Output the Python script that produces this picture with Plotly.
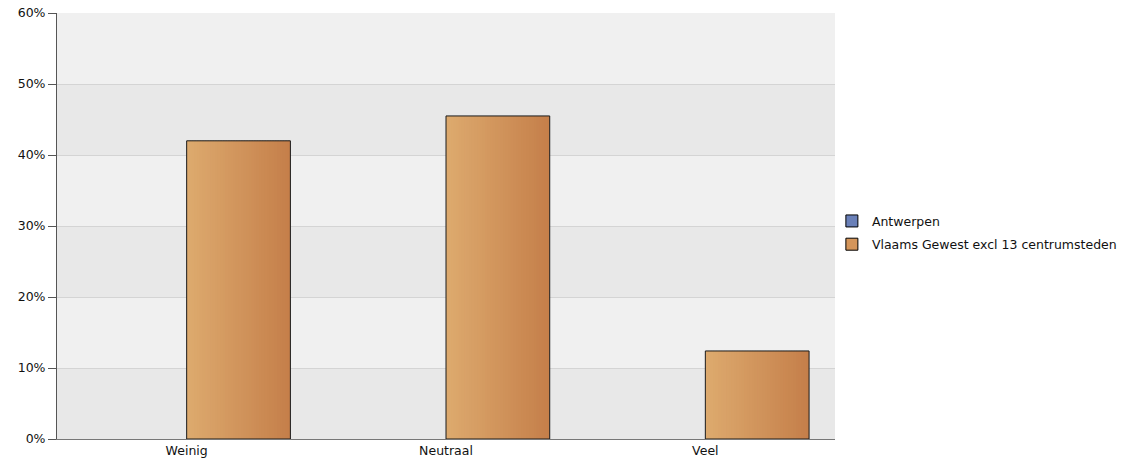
import plotly.graph_objects as go

categories = ["Weinig", "Neutraal", "Veel"]
series_names = ["Antwerpen", "Vlaams Gewest excl 13 centrumsteden"]
antwerpen = [None, None, None]
vlaams = [42.0, 45.5, 12.4]
y_ticks = [0, 10, 20, 30, 40, 50, 60]
y_tick_labels = ["0%", "10%", "20%", "30%", "40%", "50%", "60%"]

FONT = "DejaVu Sans"
blue = "#6a80b8"
orange = "#d4955a"
grad_left = (221, 170, 110)
grad_right = (197, 127, 74)

fig = go.Figure()

# legend-only entries
fig.add_trace(go.Bar(x=categories, y=antwerpen, name=series_names[0], legendgroup="a",
                     marker=dict(color=blue, line=dict(color="black", width=1)),
                     offset=-0.4, width=0.4))
fig.add_trace(go.Bar(x=categories, y=[None] * 3, name=series_names[1], legendgroup="b",
                     marker=dict(color=orange, line=dict(color="black", width=1)),
                     offset=0, width=0.4))

# gradient slices for the Vlaams series
N = 40
bar_w = 0.4
step = bar_w / N
for i in range(N):
    t = i / (N - 1)
    c = tuple(round(grad_left[k] + (grad_right[k] - grad_left[k]) * t) for k in range(3))
    w = min(step * 1.6, bar_w - i * step)
    fig.add_trace(go.Bar(x=categories, y=vlaams, offset=i * step, width=w,
                         marker=dict(color="rgb(%d,%d,%d)" % c, line=dict(width=0)),
                         showlegend=False, hoverinfo="skip"))
# outline
fig.add_trace(go.Bar(x=categories, y=vlaams, offset=0, width=bar_w,
                     marker=dict(color="rgba(0,0,0,0)", line=dict(color="#1a1a1a", width=1)),
                     showlegend=False, name=series_names[1]))

shapes = []
for j in range(len(y_ticks) - 1):
    shapes.append(dict(type="rect", xref="paper", yref="y", x0=0, x1=1,
                       y0=y_ticks[j], y1=y_ticks[j + 1], layer="below",
                       fillcolor="#e8e8e8" if j % 2 == 0 else "#f0f0f0",
                       line=dict(width=0)))

fig.update_layout(
    width=1124, height=463,
    margin=dict(l=57, r=289, t=13, b=24, autoexpand=False),
    barmode="overlay",
    paper_bgcolor="white",
    plot_bgcolor="#f0f0f0",
    font=dict(family=FONT, size=12.5, color="#111111"),
    shapes=shapes,
    showlegend=True,
    legend=dict(x=0.996, y=0.484, xanchor="left", yanchor="middle",
                font=dict(family=FONT, size=12.5, color="#111111"),
                bgcolor="rgba(0,0,0,0)", tracegroupgap=4, itemwidth=30),
    xaxis=dict(type="category", range=[-0.5, 2.5], showgrid=False,
               showline=True, linecolor="#777777", linewidth=1,
               ticks="", tickfont=dict(size=12.5), fixedrange=True,
               automargin=False),
    yaxis=dict(range=[0, 60], tickvals=y_ticks, ticktext=y_tick_labels,
               showgrid=True, gridcolor="#d4d4d4", gridwidth=1,
               showline=True, linecolor="#555555", linewidth=1,
               ticks="outside", ticklen=8, tickcolor="#555555",
               zeroline=False, tickfont=dict(size=12.5), automargin=False,
               fixedrange=True),
)

fig.write_html("out.html", config={"displayModeBar": False},
               post_script="document.body.style.margin='0';document.body.style.overflow='hidden';")
